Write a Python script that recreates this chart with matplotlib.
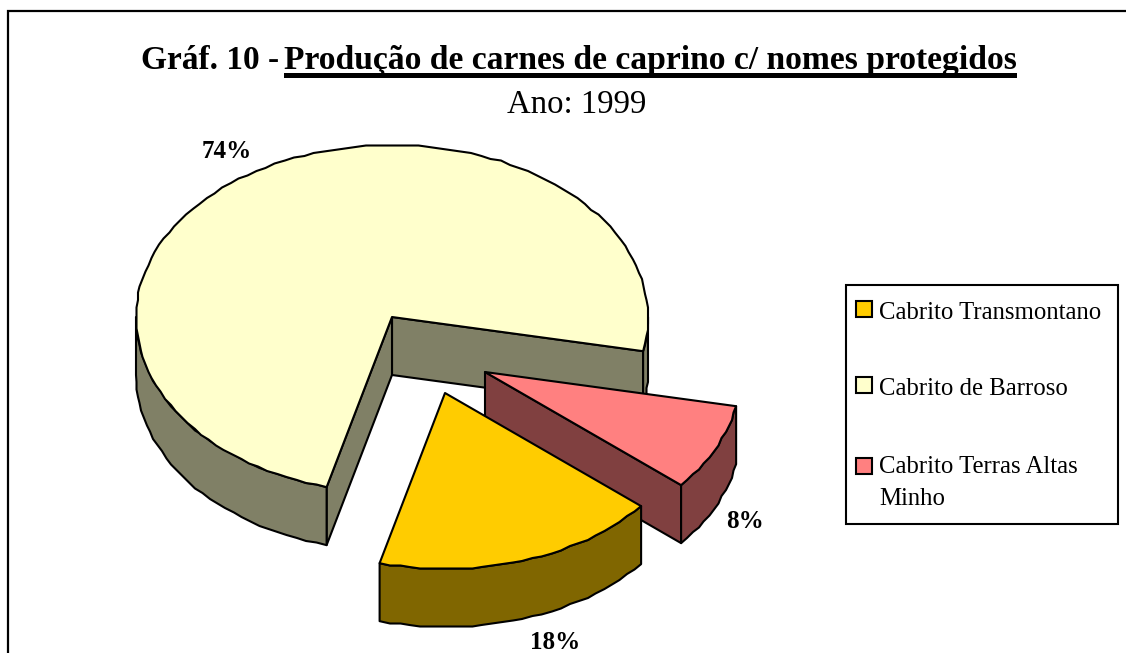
from __future__ import annotations

import matplotlib

matplotlib.use("Agg")
import matplotlib.pyplot as plt
import numpy as np
from matplotlib.patches import Rectangle, Polygon

# data
categories = ["Cabrito Transmontano", "Cabrito de Barroso", "Cabrito Terras Altas\nMinho"]
shares = [18, 74, 8]
pct_labels = ["18%", "74%", "8%"]

# colours (top, side)
TOP = {"gold": "#FFCC00", "cream": "#FFFFCC", "pink": "#FF8080"}
SIDE = {"gold": "#806600", "cream": "#808066", "pink": "#804040"}
slice_colors = ["gold", "cream", "pink"]

# pie geometry in pixels
CX, CY = 392, 317
RX = 256
RY_UP, RY_DOWN = 172, 176  # the near half is a little deeper
DEPTH = 58
START = 40.0  # screen angle where the gold slice starts, clockwise from east
OFFSETS = [(53, 76), (0, 0), (93, 55)]
GRID = 1.5


def rim(angles, off=(0, 0)):
    a = np.radians(angles)
    s = np.sin(a)
    x = CX + RX * np.cos(a) + off[0]
    y = CY + np.where(s > 0, RY_DOWN, RY_UP) * s + off[1]
    return np.column_stack([x, y])


def arc(a0, a1, off=(0, 0)):
    # rim points snapped to a coarse grid to get the rough outline of the original
    n = max(int(abs(a1 - a0) / 2.4) + 2, 2)
    inner = np.round(rim(np.linspace(a0, a1, n)[1:-1], off) / GRID) * GRID
    return np.vstack([rim([a0], off), inner, rim([a1], off)])


def poly(ax, pts, color, z):
    ax.add_patch(Polygon(pts, closed=True, facecolor=color, edgecolor="black",
                         linewidth=1.5, joinstyle="round", zorder=z))


def rim_wall(ax, a0, a1, off, color, z):
    top = arc(a0, a1, off)
    poly(ax, np.vstack([top, (top + [0, DEPTH])[::-1]]), color, z)


def radial_wall(ax, a, off, color, z):
    c = np.array([CX + off[0], CY + off[1]], dtype=float)
    p = rim([a], off)[0]
    poly(ax, [c, p, p + [0, DEPTH], c + [0, DEPTH]], color, z)


fig = plt.figure(figsize=(11.26, 6.53), dpi=100)
ax = fig.add_axes([0, 0, 1, 1])
ax.set_xlim(0, 1126)
ax.set_ylim(653, 0)
ax.axis("off")

# outer frame, right and bottom run off the picture
ax.plot([8, 8, 1130], [660, 11, 11], color="black", lw=1.6, solid_joinstyle="miter", zorder=1)

# slice angles from the values
spans = [s / sum(shares) * 360 for s in shares]
a0_gold = START
a1_gold = a0_gold + spans[0]
a0_cream = a1_gold
a1_cream = a0_cream + spans[1]
a0_pink = a1_cream - 360
a1_pink = a0_pink + spans[2]

# big slice
off = OFFSETS[1]
radial_wall(ax, a1_cream - 360, off, SIDE["cream"], 2)
radial_wall(ax, a0_cream, off, SIDE["cream"], 2)
rim_wall(ax, a0_cream, 180, off, SIDE["cream"], 3)
rim_wall(ax, 0, a1_cream - 360, off, SIDE["cream"], 3)
poly(ax, np.vstack([[CX + off[0], CY + off[1]], arc(a0_cream, a1_cream, off)]), TOP["cream"], 4)

# pink slice
off = OFFSETS[2]
radial_wall(ax, a1_pink, off, SIDE["pink"], 5)
rim_wall(ax, a0_pink, a1_pink, off, SIDE["pink"], 6)
poly(ax, np.vstack([[CX + off[0], CY + off[1]], arc(a0_pink, a1_pink, off)]), TOP["pink"], 7)

# gold slice
off = OFFSETS[0]
rim_wall(ax, a0_gold, a1_gold, off, SIDE["gold"], 8)
poly(ax, np.vstack([[CX + off[0], CY + off[1]], arc(a0_gold, a1_gold, off)]), TOP["gold"], 9)

serif = "Liberation Serif"

# title, underline only under the second part
ax.text(279, 69, "Gráf. 10 -", family=serif, weight="bold", fontsize=24, ha="right", va="baseline", zorder=10)
ax.text(284, 69, "Produção de carnes de caprino c/ nomes protegidos", family=serif, weight="bold",
        fontsize=24.2, ha="left", va="baseline", zorder=10)
ax.add_patch(Rectangle((284, 73), 733, 5, facecolor="black", edgecolor="none", zorder=10))
ax.text(577, 113, "Ano: 1999", family=serif, fontsize=23.6, ha="center", va="baseline", zorder=10)

# percent labels
label_pos = [(555, 649), (227, 158), (745, 528)]
for txt, (x, y) in zip(pct_labels, label_pos):
    ax.text(x, y, txt, family=serif, weight="bold", fontsize=18, ha="center", va="baseline", zorder=10)

# legend
ax.add_patch(Rectangle((846, 285), 272, 239, facecolor="white", edgecolor="black", lw=1.5, zorder=10))
swatch_y = [301, 377, 458]
text_y = [319, 395, 473]
for cat, key, sy, ty in zip(categories, slice_colors, swatch_y, text_y):
    ax.add_patch(Rectangle((856, sy), 16, 16, facecolor=TOP[key], edgecolor="black", lw=1.5, zorder=11))
    lines = cat.split("\n")
    ax.text(879, ty, lines[0], family=serif, fontsize=17.8, ha="left", va="baseline", zorder=11)
    if len(lines) > 1:
        ax.text(879, ty + 32, lines[1], family=serif, fontsize=17.8, ha="left", va="baseline", zorder=11)

fig.savefig("out.png", dpi=100)
